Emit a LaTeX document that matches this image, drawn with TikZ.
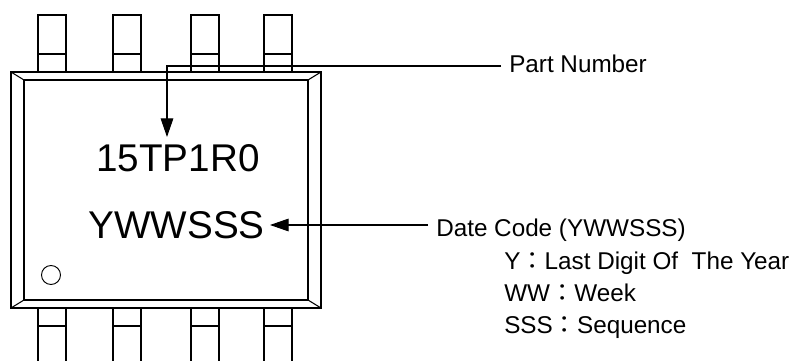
\documentclass[tikz,border=0pt]{standalone}
\usepackage{fontspec}
\usepackage{tikz,tkz-euclide}
\usetikzlibrary{arrows.meta}
\setmainfont{Liberation Sans}
\newfontfamily\cjk{Noto Sans CJK TC}
\tikzset{
	pinline/.style={line width=.8pt},
	leader/.style={line width=.8pt,-{Triangle[length=14pt,width=9.5pt]}},
	marklabel/.style={font=\fontsize{29}{30}\selectfont,inner xsep=3.75pt,inner ysep=0pt},
	notelabel/.style={font=\fontsize{18.2}{20}\selectfont,inner xsep=6pt,inner ysep=0pt,anchor=base west}
}
\begin{document}
\begin{tikzpicture}[x=.75pt,y=.75pt]
			\useasboundingbox (0,0) rectangle (801,361);
			\tkzDefPoint(11,289){A}
			\tkzDefPoint(321,289){B}
			\tkzDefPoint(321,53){C}
			\tkzDefPoint(11,53){D}
			\tkzDefPoint(24,281){E}
			\tkzDefPoint(308,281){F}
			\tkzDefPoint(308,61){G}
			\tkzDefPoint(24,61){H}
			\tkzDefPoint(51,86){O}
			\tkzDefPoint(60.5,86){R}
			\tkzDefPoint(167,224){T}

			\foreach \x in {38,113,191,264}{
				\draw[pinline] (\x,289) -- (\x,346) -- (\x+28,346) -- (\x+28,289);
				\draw[pinline] (\x,307) -- (\x+28,307);
				\draw[pinline] (\x,53) -- (\x,0) (\x+28,53) -- (\x+28,0);
				\draw[pinline] (\x,35) -- (\x+28,35);
			}
			\draw[line width=1pt] (A) -- (B) -- (C) -- (D) -- cycle;
			\draw[line width=1pt] (E) -- (F) -- (G) -- (H) -- cycle;
			\tkzDrawSegments[line width=.8pt,color=black](A,E B,F C,G D,H)
			\tkzDrawCircle[line width=.7pt,color=black](O,R)

			\node[marklabel,anchor=base west] (num) at (91,189) {15TP1R0};
			\node[marklabel,anchor=base east] (code) at (270,122) {YWWSSS};
			\node[notelabel] (part) at (501,288) {Part Number};
			\node[notelabel] (date) at (428,124) {Date Code (YWWSSS)};
			\node[notelabel] (year) at (496,91) {Y{\cjk：}Last Digit Of\ \ The Year};
			\node[notelabel] (week) at (496,59) {WW{\cjk：}Week};
			\node[notelabel] (seq) at (496,27) {SSS{\cjk：}Sequence};

			\draw[leader] (part.west |- 0,295) -| (T);
			\draw[leader] (date.west |- 0,136) -- (code.east |- 0,136);
			\end{tikzpicture}
\end{document}
